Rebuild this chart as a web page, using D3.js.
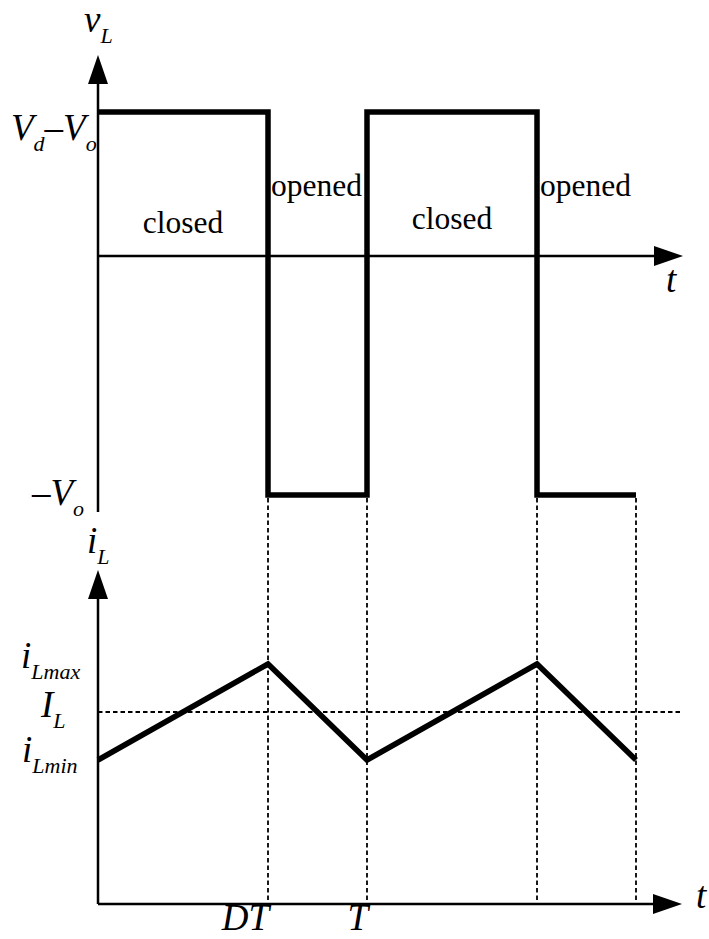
<!DOCTYPE html>
<html>
<head>
<meta charset="utf-8">
<script src="https://cdn.jsdelivr.net/npm/d3@7"></script>
<style>
  body { margin: 0; background: #fff; }
  text { font-family: "Liberation Serif", "Times New Roman", serif; fill: #000; }
  .math { font-style: italic; }
</style>
</head>
<body>
<div id="chart"></div>
<script>
const width = 709;
const height = 939;

// time points in units of the period T (D = duty ratio)
const D = 0.632;
const switchTimes = [0, D, 1, 1 + D, 2];

// inductor voltage, normalised to Vd - Vo = 1
const vHigh = 1;
const vLow = -1.66;
const vTimes = [0, D, D, 1, 1, 1 + D, 1 + D, 2];
const vValues = [vHigh, vHigh, vLow, vLow, vHigh, vHigh, vLow, vLow];

// inductor current
const iMin = 1.5;
const iMax = 2.5;
const iAvg = 2.0;
const iValues = [iMin, iMax, iMin, iMax, iMin];

const stateLabels = [
  { text: "closed", t: D / 2, v: 0.16, anchor: "middle" },
  { text: "opened", t: D, v: 0.42, anchor: "start" },
  { text: "closed", t: 1 + D / 2, v: 0.19, anchor: "middle" },
  { text: "opened", t: 1 + D, v: 0.42, anchor: "start" }
];

const x = d3.scaleLinear().domain([0, 2]).range([98, 636]);
const yV = d3.scaleLinear().domain([vLow, vHigh]).range([495, 112]);
const yI = d3.scaleLinear().domain([0, iMax]).range([904, 664]);

const svg = d3.select("#chart")
  .append("svg")
  .attr("width", width)
  .attr("height", height);

function arrow(g, tipX, tipY, dir) {
  const len = 29, hw = 10;
  let pts;
  if (dir === "up") pts = [[tipX, tipY], [tipX - hw, tipY + len], [tipX + hw, tipY + len]];
  else pts = [[tipX, tipY], [tipX - len, tipY - hw], [tipX - len, tipY + hw]];
  g.append("path")
    .attr("d", "M" + pts.join("L") + "Z")
    .attr("fill", "#000");
}

// ---- top plot: v_L ----
const vPlot = svg.append("g");

vPlot.append("line")
  .attr("x1", x(0)).attr("x2", x(0))
  .attr("y1", 512).attr("y2", 70)
  .attr("stroke", "#000").attr("stroke-width", 2.5);
arrow(vPlot, x(0), 55, "up");

vPlot.append("line")
  .attr("x1", x(0)).attr("x2", 668)
  .attr("y1", yV(0)).attr("y2", yV(0))
  .attr("stroke", "#000").attr("stroke-width", 2.5);
arrow(vPlot, 683, yV(0), "right");

vPlot.append("path")
  .datum(d3.zip(vTimes, vValues))
  .attr("d", d3.line().x(d => x(d[0])).y(d => yV(d[1])))
  .attr("fill", "none")
  .attr("stroke", "#000")
  .attr("stroke-width", 5.5)
  .attr("stroke-linejoin", "miter");

vPlot.selectAll(".state")
  .data(stateLabels)
  .join("text")
  .attr("class", "state")
  .attr("x", d => x(d.t) + (d.anchor === "start" ? 3 : 0))
  .attr("y", d => yV(d.v))
  .attr("text-anchor", d => d.anchor)
  .attr("font-size", 31.5)
  .text(d => d.text);

// ---- bottom plot: i_L ----
const iPlot = svg.append("g");

iPlot.selectAll(".guide")
  .data(switchTimes.slice(1))
  .join("line")
  .attr("class", "guide")
  .attr("x1", d => x(d)).attr("x2", d => x(d))
  .attr("y1", yV(vLow) + 3).attr("y2", yI(0))
  .attr("stroke", "#000")
  .attr("stroke-width", 1.8)
  .attr("stroke-dasharray", "4.5,3");

iPlot.append("line")
  .attr("x1", x(0)).attr("x2", 683)
  .attr("y1", yI(iAvg)).attr("y2", yI(iAvg))
  .attr("stroke", "#000")
  .attr("stroke-width", 1.8)
  .attr("stroke-dasharray", "4.5,3");

iPlot.append("line")
  .attr("x1", x(0)).attr("x2", x(0))
  .attr("y1", yI(0)).attr("y2", 585)
  .attr("stroke", "#000").attr("stroke-width", 2.5);
arrow(iPlot, x(0), 570, "up");

iPlot.append("line")
  .attr("x1", x(0)).attr("x2", 668)
  .attr("y1", yI(0)).attr("y2", yI(0))
  .attr("stroke", "#000").attr("stroke-width", 2.5);
arrow(iPlot, 682, yI(0), "right");

iPlot.append("path")
  .datum(d3.zip(switchTimes, iValues))
  .attr("d", d3.line().x(d => x(d[0])).y(d => yI(d[1])))
  .attr("fill", "none")
  .attr("stroke", "#000")
  .attr("stroke-width", 5.5)
  .attr("stroke-linejoin", "miter");

// ---- math labels ----
function mathLabel(px, py, parts) {
  const t = svg.append("text").attr("x", px).attr("y", py).attr("class", "math");
  let shift = 0;
  parts.forEach(p => {
    const sub = p[1] === "sub";
    const dy = (sub ? 11 : 0) - shift;
    shift = sub ? 11 : 0;
    const s = t.append("tspan")
      .attr("dy", dy)
      .attr("font-size", sub ? 22 : 37)
      .text(p[0]);
    if (p[1] === "up") s.style("font-style", "normal");
  });
}

mathLabel(84, 32, [["v"], ["L", "sub"]]);
mathLabel(666, 292, [["t"]]);
mathLabel(11, 140, [["V"], ["d", "sub"], ["\u2013", "up"], ["V"], ["o", "sub"]]);
mathLabel(32, 505, [["\u2013", "up"], ["V"], ["o", "sub"]]);
mathLabel(87, 553, [["i"], ["L", "sub"]]);
mathLabel(21, 668, [["i"], ["Lmax", "sub"]]);
mathLabel(41, 717, [["I"], ["L", "sub"]]);
mathLabel(22, 762, [["i"], ["Lmin", "sub"]]);
mathLabel(696, 908, [["t"]]);

svg.append("text").attr("class", "math")
  .attr("x", x(D) + 1).attr("y", 930)
  .attr("text-anchor", "end").attr("font-size", 37)
  .text("DT");
svg.append("text").attr("class", "math")
  .attr("x", x(1) + 1).attr("y", 930)
  .attr("text-anchor", "end").attr("font-size", 37)
  .text("T");
</script>
</body>
</html>
